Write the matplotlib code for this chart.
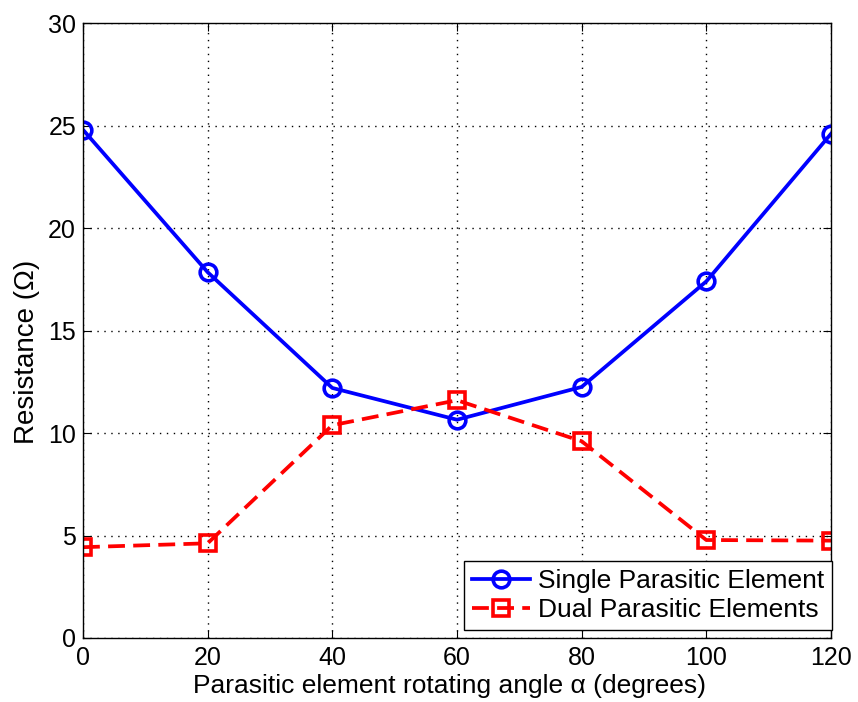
import matplotlib
matplotlib.use("Agg")
import matplotlib.pyplot as plt

plt.rcParams['font.family'] = ['Liberation Sans', 'DejaVu Sans']

angle = [0, 20, 40, 60, 80, 100, 120]
single = [24.8, 17.85, 12.2, 10.65, 12.25, 17.4, 24.6]
dual = [4.43, 4.62, 10.38, 11.6, 9.6, 4.78, 4.75]

fig = plt.figure(figsize=(8.58, 7.02), dpi=100)
ax = fig.add_axes([0.0967, 0.0912, 0.8718, 0.8758])

ax.plot(angle, single, '-o', color='blue', lw=2.7, ms=12, mew=2.6,
        mfc='none', label='Single Parasitic Element')
ax.plot(angle, dual, '--s', color='red', lw=2.7, ms=11, mew=2.6,
        mfc='none', dashes=(4.5, 2.2), label='Dual Parasitic Elements')

ax.set_xlim(0, 120)
ax.set_ylim(0, 30)
ax.set_xticks(angle)
ax.set_yticks(range(0, 31, 5))
ax.grid(True, color='black', linestyle=(0, (1, 4)), linewidth=1.0)
ax.tick_params(direction='in', length=6, labelsize=18, top=True, right=True)
ax.tick_params(axis='x', pad=6)
ax.tick_params(axis='y', pad=5)
for s in ax.spines.values():
    s.set_linewidth(1.0)

ax.set_xlabel('Parasitic element rotating angle α (degrees)', fontsize=19)
ax.set_ylabel('Resistance (Ω)', fontsize=20)
ax.xaxis.set_label_coords(0.49, -0.058)
ax.yaxis.set_label_coords(-0.058, 0.465)

leg = ax.legend(loc='lower right', bbox_to_anchor=(1.001, 0.013), fontsize=19,
                fancybox=False, framealpha=1, edgecolor='black', borderaxespad=0,
                handlelength=2.2, handletextpad=0.3, borderpad=0.3, labelspacing=0.2)
leg.get_frame().set_linewidth(1.0)

fig.savefig('out.png', dpi=100)
